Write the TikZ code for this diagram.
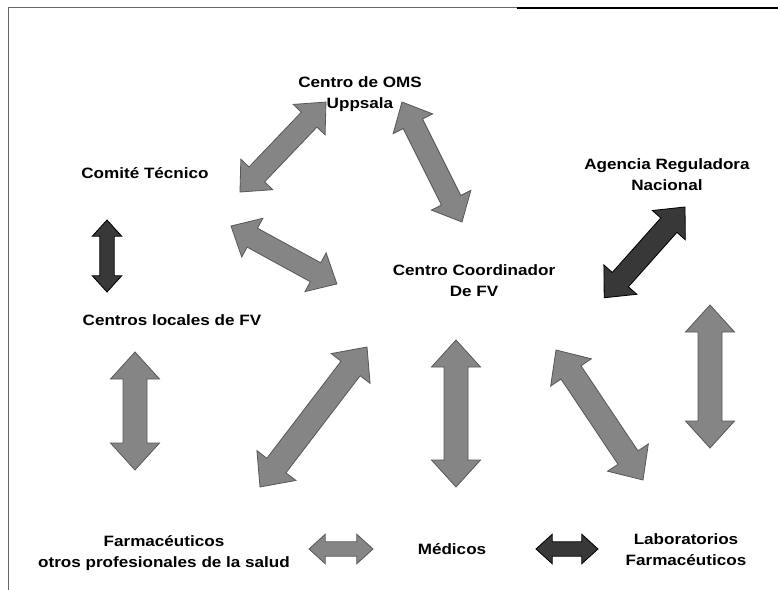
\documentclass[tikz,border=0pt]{standalone}
\usepackage{fontspec}
\setmainfont{Liberation Sans}[FakeStretch=1.14]
\usetikzlibrary{calc}

\tikzset{
  lbl/.style={align=center, inner sep=1pt, font=\fontsize{12.8}{17.9}\selectfont\bfseries},
  blockarrow/.style={draw=black!65, fill=black!48, line width=0.7pt, line join=miter},
  darkarrow/.style={draw=black, fill=black!78, line width=0.7pt},
}

% double block arrow between two named coordinates, #4 = size factor
\newcommand\dblarrow[4][]{%
  \pgfpointdiff{\pgfpointanchor{#2}{center}}{\pgfpointanchor{#3}{center}}%
  \pgfgetlastxy\arx\ary
  \pgfmathsetmacro\arlen{veclen(\arx,\ary)}%
  \pgfmathsetmacro\arang{atan2(\ary,\arx)}%
  \begin{scope}[shift={(#2)},rotate=\arang]
    \draw[blockarrow,#1] (0pt,0pt)
      -- ({#4*0.81cm},{#4*0.735cm}) -- ({#4*0.81cm},{#4*0.36cm})
      -- ({\arlen pt-#4*0.81cm},{#4*0.36cm}) -- ({\arlen pt-#4*0.81cm},{#4*0.735cm})
      -- (\arlen pt,0pt)
      -- ({\arlen pt-#4*0.81cm},{-#4*0.735cm}) -- ({\arlen pt-#4*0.81cm},{-#4*0.36cm})
      -- ({#4*0.81cm},{-#4*0.36cm}) -- ({#4*0.81cm},{-#4*0.735cm}) -- cycle;
  \end{scope}}

\begin{document}
\begin{tikzpicture}[x=0.03cm,y=-0.03cm]
  \useasboundingbox (0,0) rectangle (778,590);
  % frame
  \draw[black!60, line width=0.6pt] (8,590) -- (8,7) -- (517,7);
  \draw[line width=1.8pt] (517,8) -- (778,8);

  % labels
  \node[lbl] (oms) at (360,94) {Centro de OMS\\Uppsala};
  \node[lbl] (comite) at (145,173) {Comité Técnico};
  \node[lbl] (agencia) at (667,175) {Agencia Reguladora\\Nacional};
  \node[lbl] (locales) at (172,320) {Centros locales de FV};
  \node[lbl] (coord) at (474,281) {Centro Coordinador\\De FV};
  \node[lbl] (farma) at (164,553) {Farmacéuticos\\otros profesionales de la salud};
  \node[lbl] (medicos) at (452,549) {Médicos};
  \node[lbl] (lab) at (686,550) {Laboratorios\\Farmacéuticos};

  % arrow ends
  \coordinate (a1s) at (240,192); \coordinate (a1e) at (326,102);
  \coordinate (a2s) at (402,102); \coordinate (a2e) at (462,222);
  \coordinate (a3s) at (107,220); \coordinate (a3e) at (107,292);
  \coordinate (a4s) at (231,226); \coordinate (a4e) at (337,284);
  \coordinate (a5s) at (685,207); \coordinate (a5e) at (604,298);
  \coordinate (a6s) at (710,305); \coordinate (a6e) at (710,448);
  \coordinate (a7s) at (556,350); \coordinate (a7e) at (643,480);
  \coordinate (a8s) at (456,340); \coordinate (a8e) at (456,487);
  \coordinate (a9s) at (367,347); \coordinate (a9e) at (260,487);
  \coordinate (a10s) at (135,352); \coordinate (a10e) at (135,470);
  \coordinate (a11s) at (309,549); \coordinate (a11e) at (373,549);
  \coordinate (a12s) at (536,549); \coordinate (a12e) at (598,549);

  % arrows
  \dblarrow{a1s}{a1e}{0.9}
  \dblarrow{a2s}{a2e}{0.9}
  \dblarrow[darkarrow]{a3s}{a3e}{0.6}
  \dblarrow{a4s}{a4e}{0.9}
  \dblarrow[darkarrow]{a5s}{a5e}{0.9}
  \dblarrow{a6s}{a6e}{1}
  \dblarrow{a7s}{a7e}{1}
  \dblarrow{a8s}{a8e}{1}
  \dblarrow{a9s}{a9e}{1}
  \dblarrow{a10s}{a10e}{1}
  \dblarrow{a11s}{a11e}{0.6}
  \dblarrow[darkarrow]{a12s}{a12e}{0.6}
\end{tikzpicture}
\end{document}
